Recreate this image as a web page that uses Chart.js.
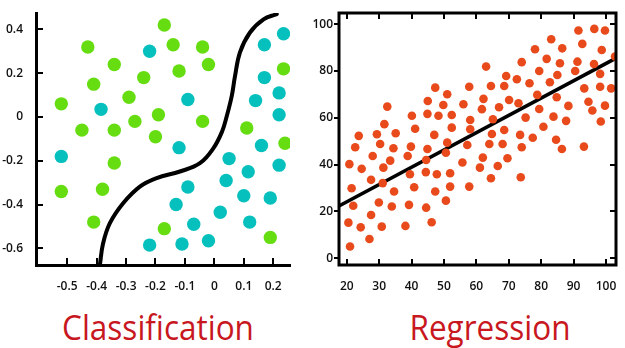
<!DOCTYPE html>
<html>
<head>
<meta charset="utf-8">
<script src="https://cdn.jsdelivr.net/npm/chart.js@4"></script>
<style>
  body { margin: 0; background: #fff; width: 625px; height: 348px; position: relative; overflow: hidden; }
  canvas { position: absolute; top: 0; }
  #clsCanvas { left: 0; }
  #regCanvas { left: 300px; }
  .caption {
    position: absolute; top: 309px; width: 300px; text-align: center;
    font-family: 'Open Sans', sans-serif; font-size: 35px; line-height: 35px;
    color: #c8171e; transform: scaleX(0.9);
  }
</style>
</head>
<body>
<canvas id="clsCanvas" width="300" height="295"></canvas>
<canvas id="regCanvas" width="325" height="295"></canvas>
<div class="caption" style="left: 8px;">Classification</div>
<div class="caption" style="left: 340px;">Regression</div>
<script>
// classification: two classes split by a curved boundary
var classA = [
  [-0.17, 0.42], [-0.43, 0.32], [-0.14, 0.33], [-0.04, 0.32], [-0.34, 0.24], [-0.02, 0.24],
  [-0.12, 0.21], [-0.24, 0.18], [-0.41, 0.15], [-0.29, 0.09], [-0.52, 0.06], [-0.19, 0.01],
  [-0.27, -0.02], [-0.04, -0.02], [-0.45, -0.06], [-0.34, -0.06], [-0.20, -0.09], [0.11, -0.05],
  [0.235, 0.22], [0.24, -0.12], [-0.34, -0.21], [-0.52, -0.34], [-0.38, -0.33], [-0.41, -0.48],
  [-0.17, -0.51], [0.19, -0.55]
];
var classB = [
  [-0.22, 0.30], [0.235, 0.38], [0.17, 0.33], [0.17, 0.18], [0.22, 0.11], [0.14, 0.075],
  [0.22, 0.01], [-0.09, 0.08], [-0.385, 0.035], [-0.12, -0.14], [-0.52, -0.18], [0.16, -0.13],
  [0.05, -0.19], [0.22, -0.22], [0.115, -0.25], [0.04, -0.29], [-0.09, -0.32], [0.10, -0.36],
  [0.19, -0.37], [-0.13, -0.40], [0.02, -0.435], [-0.07, -0.49], [0.12, -0.48], [-0.22, -0.585],
  [-0.11, -0.58], [-0.02, -0.565]
];
var boundary = [
  [-0.389, -0.676], [-0.378, -0.577], [-0.355, -0.485], [-0.31, -0.394], [-0.253, -0.318],
  [-0.196, -0.279], [-0.117, -0.249], [-0.049, -0.211], [-0.003, -0.142], [0.026, -0.067],
  [0.042, 0.003], [0.059, 0.095], [0.07, 0.185], [0.087, 0.295], [0.121, 0.386],
  [0.167, 0.446], [0.212, 0.47]
];
var clsXTicks = [-0.5, -0.4, -0.3, -0.2, -0.1, 0, 0.1, 0.2];
var clsYTicks = [-0.6, -0.4, -0.2, 0, 0.2, 0.4];

// regression: noisy points and the fitted line
var samples = [
  [96.4, 98.0], [99.7, 97.3], [91.5, 97.3], [83.1, 93.6], [92.7, 91.6], [78.1, 89.3], [86.5, 89.7],
  [98.7, 89.0], [102.8, 86.2], [81.7, 85.2], [63.0, 81.9], [74.0, 83.8], [85.8, 83.3], [91.2, 84.0],
  [96.3, 83.0], [79.4, 80.0], [90.5, 80.0], [85.0, 78.3], [98.2, 78.8], [69.2, 77.9], [72.5, 76.5],
  [82.7, 75.2], [76.4, 74.8], [47.3, 72.9], [57.8, 73.3], [64.5, 73.6], [68.6, 73.6], [93.3, 72.6],
  [98.2, 73.3], [101.6, 72.6], [51.0, 70.1], [78.8, 69.8], [62.2, 68.1], [70.1, 67.6], [84.8, 68.8],
  [45.0, 67.2], [56.0, 65.8], [73.0, 66.2], [94.6, 66.9], [32.5, 64.8], [49.8, 65.5], [67.0, 64.5],
  [88.4, 65.1], [79.4, 63.8], [95.8, 63.1], [99.7, 65.2], [44.9, 61.7], [48.3, 60.9], [52.4, 61.2],
  [61.7, 63.7], [40.1, 60.9], [75.2, 60.1], [83.8, 60.5], [65.1, 59.4], [58.1, 59.1], [87.7, 58.7],
  [98.4, 58.4], [31.6, 57.3], [41.1, 55.3], [52.4, 55.8], [58.1, 55.1], [68.6, 54.8], [80.7, 56.2],
  [23.7, 52.3], [29.3, 53.0], [35.1, 53.4], [47.0, 52.7], [64.8, 53.1], [73.5, 52.7], [77.4, 51.5],
  [84.6, 50.6], [51.0, 49.4], [22.6, 47.4], [30.3, 48.8], [34.4, 47.0], [39.8, 47.7], [44.9, 46.7],
  [57.2, 48.4], [64.0, 48.8], [68.1, 48.8], [74.0, 47.4], [86.4, 46.7], [93.2, 47.7], [28.0, 43.7],
  [38.8, 43.7], [50.6, 45.1], [44.5, 42.0], [33.4, 41.7], [62.0, 43.0], [69.6, 42.7], [20.8, 40.2],
  [55.7, 40.9], [24.6, 38.2], [31.3, 38.7], [61.1, 38.7], [66.6, 39.4], [39.5, 35.9], [44.4, 36.8],
  [47.8, 35.9], [51.9, 36.3], [27.5, 33.5], [31.1, 32.1], [64.5, 34.2], [73.7, 34.6], [21.5, 29.9],
  [40.8, 30.3], [51.9, 30.6], [57.8, 30.6], [34.6, 28.5], [47.3, 28.5], [29.9, 23.8], [50.6, 24.6],
  [22.0, 22.4], [33.9, 22.1], [39.2, 22.8], [44.5, 21.6], [27.5, 18.5], [20.5, 15.2], [24.3, 13.2],
  [30.8, 13.5], [38.1, 13.8], [46.2, 15.4], [27.0, 8.2], [21.0, 5.0]
];
var fitLine = [[17.6, 22.3], [103.1, 85.5]];
var regXTicks = [20, 30, 40, 50, 60, 70, 80, 90, 100];
var regYTicks = [0, 20, 40, 60, 80, 100];

var tickFont = { family: "'Open Sans', sans-serif", size: 12, weight: '600' };

function pts(list) {
  return list.map(function (p) { return { x: p[0], y: p[1] }; });
}
function fixedTicks(values) {
  return function (scale) { scale.ticks = values.map(function (v) { return { value: v }; }); };
}

// short tick marks pointing into the plot area, plus an optional frame
var innerTicks = {
  id: 'innerTicks',
  afterDatasetsDraw: function (chart, args, opts) {
    var ctx = chart.ctx, a = chart.chartArea, sx = chart.scales.x, sy = chart.scales.y;
    var len = opts.length || 6;
    ctx.save();
    ctx.strokeStyle = '#000';
    ctx.lineWidth = 2;
    ctx.beginPath();
    (opts.x || []).forEach(function (side) {
      var y0 = side === 'top' ? a.top : a.bottom;
      var dir = side === 'top' ? 1 : -1;
      sx.ticks.forEach(function (t) {
        var px = Math.round(sx.getPixelForValue(t.value));
        ctx.moveTo(px, y0); ctx.lineTo(px, y0 + dir * len);
      });
    });
    (opts.y || []).forEach(function (side) {
      var x0 = side === 'right' ? a.right : a.left;
      var dir = side === 'right' ? -1 : 1;
      sy.ticks.forEach(function (t) {
        var py = Math.round(sy.getPixelForValue(t.value));
        ctx.moveTo(x0, py); ctx.lineTo(x0 + dir * len, py);
      });
    });
    ctx.stroke();
    if (opts.frame) {
      ctx.lineWidth = 3;
      ctx.strokeRect(a.left, a.top, a.right - a.left, a.bottom - a.top);
    }
    ctx.restore();
  }
};

new Chart(document.getElementById('clsCanvas'), {
  type: 'scatter',
  data: {
    datasets: [
      { data: pts(classA), backgroundColor: '#66dd11', pointRadius: 6.7, borderWidth: 0 },
      { data: pts(classB), backgroundColor: '#05c0bd', pointRadius: 6.7, borderWidth: 0 },
      {
        data: pts(boundary), showLine: true, borderColor: '#000', borderWidth: 4,
        pointRadius: 0, tension: 0.4, borderCapStyle: 'round', fill: false
      }
    ]
  },
  options: {
    responsive: false,
    animation: false,
    layout: { padding: { top: 13, right: 10, left: 0, bottom: 0 } },
    plugins: {
      legend: { display: false },
      tooltip: { enabled: false },
      innerTicks: { x: ['bottom'], y: ['left'], length: 7 }
    },
    scales: {
      x: {
        min: -0.606, max: 0.257,
        afterBuildTicks: fixedTicks(clsXTicks),
        afterFit: function (s) { s.height = 30; },
        grid: { display: false },
        border: { display: true, color: '#000', width: 3 },
        ticks: { color: '#111', font: tickFont, padding: 6, maxRotation: 0, callback: function (v) { return String(v); } }
      },
      y: {
        min: -0.676, max: 0.475,
        afterBuildTicks: fixedTicks(clsYTicks),
        afterFit: function (s) { s.width = 36; },
        grid: { display: false },
        border: { display: true, color: '#000', width: 3 },
        ticks: { color: '#111', font: tickFont, padding: 5, callback: function (v) { return String(v); } }
      }
    }
  },
  plugins: [innerTicks]
});

new Chart(document.getElementById('regCanvas'), {
  type: 'scatter',
  data: {
    datasets: [
      { data: pts(samples), backgroundColor: '#e84a1c', pointRadius: 4.3, borderWidth: 0 },
      {
        data: pts(fitLine), showLine: true, borderColor: '#000', borderWidth: 3.5,
        pointRadius: 0, fill: false
      }
    ]
  },
  options: {
    responsive: false,
    animation: false,
    layout: { padding: { top: 13, right: 9, left: 0, bottom: 0 } },
    plugins: {
      legend: { display: false },
      tooltip: { enabled: false },
      innerTicks: { x: ['bottom', 'top'], y: ['right'], length: 6, frame: true }
    },
    scales: {
      x: {
        min: 17.6, max: 103.1,
        afterBuildTicks: fixedTicks(regXTicks),
        afterFit: function (s) { s.height = 30; },
        grid: { display: false },
        border: { display: false },
        ticks: { color: '#111', font: tickFont, padding: 6, maxRotation: 0 }
      },
      y: {
        min: -2.9, max: 104.8,
        afterBuildTicks: fixedTicks(regYTicks),
        afterFit: function (s) { s.width = 39; },
        grid: { display: true, drawOnChartArea: false, drawTicks: true, tickLength: 5, lineWidth: 2, color: '#000' },
        border: { display: false },
        ticks: { color: '#111', font: tickFont, padding: 1 }
      }
    }
  },
  plugins: [innerTicks]
});
</script>
</body>
</html>
